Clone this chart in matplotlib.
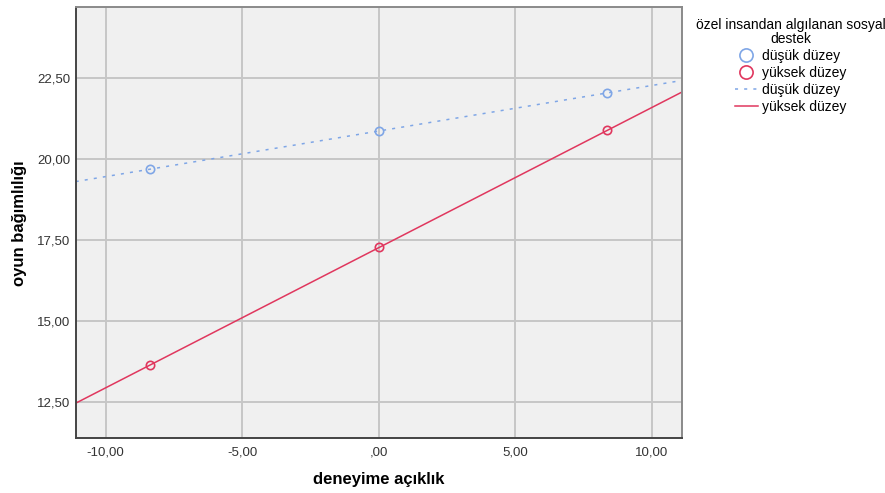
import numpy as np
import matplotlib
matplotlib.use('Agg')
import matplotlib.pyplot as plt
from matplotlib.lines import Line2D

plt.rcParams['font.family'] = ['Liberation Sans', 'DejaVu Sans']

# simple slopes: predicted values at -1 SD, mean, +1 SD of the moderator
x_points = [-8.38, 0.0, 8.38]
low_support = [19.69, 20.87, 22.05]
high_support = [13.63, 17.27, 20.89]
group_labels = ['düşük düzey', 'yüksek düzey']
x_ticks = [-10, -5, 0, 5, 10]
x_ticklabels = ['-10,00', '-5,00', ',00', '5,00', '10,00']
y_ticks = [12.5, 15, 17.5, 20, 22.5]
y_ticklabels = ['12,50', '15,00', '17,50', '20,00', '22,50']

blue = '#7fa6e6'
red = '#e0375e'

fig = plt.figure(figsize=(8.85, 4.93), dpi=100)
ax = fig.add_axes([0.0855, 0.1116, 0.6851, 0.8732])
ax.set_facecolor('#f0f0f0')

xlim = (-11.10, 11.11)
ax.set_xlim(*xlim)
ax.set_ylim(11.38, 24.69)

ax.set_xticks(x_ticks)
ax.set_xticklabels(x_ticklabels)
ax.set_yticks(y_ticks)
ax.set_yticklabels(y_ticklabels)
ax.tick_params(length=0, labelsize=9.5, colors='#333333')
ax.tick_params(axis='x', pad=6)
ax.tick_params(axis='y', pad=4)
ax.grid(True, color='#c6c6c6', linewidth=1.4)
ax.set_axisbelow(True)

for side in ['left', 'bottom']:
    ax.spines[side].set_color('#444444')
    ax.spines[side].set_linewidth(1.4)
for side in ['top', 'right']:
    ax.spines[side].set_color('#8a8a8a')
    ax.spines[side].set_linewidth(1.4)

# fit lines through the predicted values, over the full x range
xx = np.array(xlim)
for ys, col, ls in [(low_support, blue, (0, (2, 4))), (high_support, red, '-')]:
    b, a = np.polyfit(x_points, ys, 1)
    ax.plot(xx, a + b * xx, color=col, linestyle=ls, linewidth=1.1)
    ax.plot(x_points, ys, 'o', markerfacecolor='none', markeredgecolor=col,
            markersize=6, markeredgewidth=1.2)

ax.set_xlabel('deneyime açıklık', fontsize=12, fontweight='bold', labelpad=10)
ax.set_ylabel('oyun bağımlılığı', fontsize=12, fontweight='bold', labelpad=7)

handles = [
    Line2D([], [], linestyle='none', marker='o', markersize=9.5,
           markerfacecolor='none', markeredgecolor=blue, markeredgewidth=1.2),
    Line2D([], [], linestyle='none', marker='o', markersize=9.5,
           markerfacecolor='none', markeredgecolor=red, markeredgewidth=1.2),
    Line2D([], [], color=blue, linestyle=(0, (2, 4)), linewidth=1.1),
    Line2D([], [], color=red, linewidth=1.1),
]
leg = fig.legend(handles, group_labels * 2, loc='upper left',
                 bbox_to_anchor=(0.772, 0.988), frameon=False, fontsize=10,
                 title='özel insandan algılanan sosyal\ndestek',
                 title_fontsize=10, handlelength=1.7, handletextpad=0.3,
                 labelspacing=0.22)
leg.get_title().set_multialignment('center')
leg.get_title().set_linespacing(0.95)

fig.savefig('out.png', dpi=100)
